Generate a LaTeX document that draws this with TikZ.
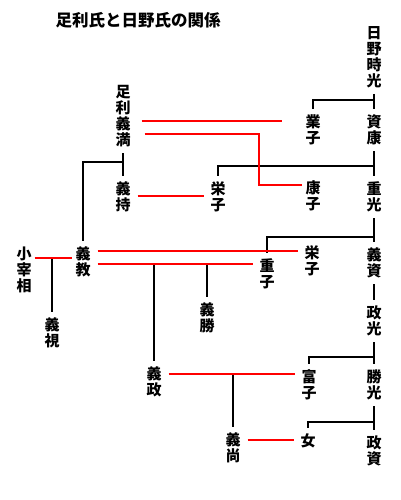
\documentclass[tikz,border=0pt]{standalone}
\usepackage{fontspec}
\setmainfont{Noto Sans CJK JP}
\usetikzlibrary{calc}
\tikzset{nm/.style={font=\fontsize{15}{16}\selectfont\bfseries,align=center,inner xsep=3pt,inner ysep=6pt},kin/.style={line width=2pt,black},wed/.style={line width=2pt,red,shorten <=4pt,shorten >=3pt}}

\begin{document}
\begin{tikzpicture}[x=1pt,y=-1pt]
\path[use as bounding box] (0,0) rectangle (400,500);
\node[font=\fontsize{16.5}{16.5}\selectfont\bfseries,inner sep=0pt] (title) at (138,20) {足利氏と日野氏の関係};
% 日野家
\node[nm] (hino) at (374,57) {日\\野\\時\\光};
\node[nm] (nariko) at (313,130) {業\\子};
\node[nm] (sukeyasu) at (374,130) {資\\康};
\node[nm] (eiko) at (218,197) {栄\\子};
\node[nm] (yasuko) at (313,196) {康\\子};
\node[nm] (shigemitsu) at (374,197) {重\\光};
\node[nm] (eiko2) at (312,261) {栄\\子};
\node[nm] (shigeko) at (267,274) {重\\子};
\node[nm] (yoshisuke) at (374,263) {義\\資};
\node[nm] (masamitsu) at (374,321) {政\\光};
\node[nm] (tomiko) at (309,385) {富\\子};
\node[nm] (katsumitsu) at (374,385) {勝\\光};
\node[nm] (musume) at (308,441) {女};
\node[nm] (masasuke) at (374,451) {政\\資};
% 足利家
\node[nm] (yoshimitsu) at (123,116) {足\\利\\義\\満};
\node[nm] (yoshimochi) at (123,197) {義\\持};
\node[nm] (kosaisho) at (24,270) {小\\宰\\相};
\node[nm] (yoshinori) at (83,262) {義\\教};
\node[nm] (yoshimi) at (52,333) {義\\視};
\node[nm] (yoshikatsu) at (207,318) {義\\勝};
\node[nm] (yoshimasa) at (154,382) {義\\政};
\node[nm] (yoshihisa) at (233,448) {義\\尚};
% 親子
\draw[kin] (hino) -- (sukeyasu);
\draw[kin] (hino.south |- 0,100) -| (nariko.north);
\draw[kin] (sukeyasu) -- (shigemitsu);
\draw[kin] (sukeyasu.south |- 0,166) -| (eiko.north);
\draw[kin] (shigemitsu) -- (yoshisuke);
\draw[kin] (shigemitsu.south |- 0,237) -| (shigeko.north);
\draw[kin] (yoshisuke) -- (masamitsu);
\draw[kin] (masamitsu) -- (katsumitsu);
\draw[kin] (masamitsu.south |- 0,357) -| (tomiko.north);
\draw[kin] (katsumitsu) -- (masasuke);
\draw[kin] (katsumitsu.south |- 0,422) -| (musume.north);
\draw[kin] (yoshimitsu) -- (yoshimochi);
\draw[kin] (yoshimitsu.south |- 0,162) -| (yoshinori.north);
\draw[kin] (yoshimasa.north |- 0,264) -- (yoshimasa.north);
\draw[kin] (yoshikatsu.north |- 0,264) -- (yoshikatsu.north);
\draw[kin] (yoshimi.north |- 0,258) -- (yoshimi.north);
\draw[kin] (yoshihisa.north |- 0,374) -- (yoshihisa.north);
% 婚姻
\draw[wed,shorten <=8pt,shorten >=20pt] (yoshimitsu.east |- 0,121) -- (nariko.west |- 0,121);
\draw[wed,shorten <=11pt,shorten >=0pt] (yoshimitsu.east |- 0,134) -- (259,134) |- (yasuko.west |- 0,185);
\draw[wed] (yoshimochi.east |- 0,196) -- (eiko.west |- 0,196);
\draw[wed] (yoshinori.east |- 0,251) -- (eiko2.west |- 0,251);
\draw[wed] (yoshinori.east |- 0,264) -- (shigeko.west |- 0,264);
\draw[wed,shorten <=0pt,shorten >=0pt] (kosaisho.east |- 0,258) -- (yoshinori.west |- 0,258);
\draw[wed] (yoshimasa.east |- 0,374) -- (tomiko.west |- 0,374);
\draw[wed] (yoshihisa.east |- 0,440) -- (musume.west |- 0,440);
\end{tikzpicture}
\end{document}
